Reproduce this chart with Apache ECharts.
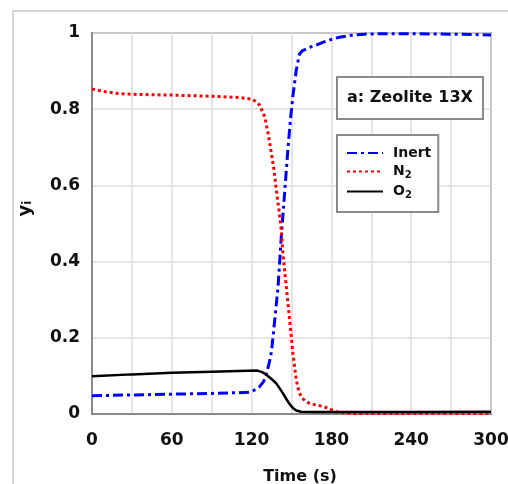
<!DOCTYPE html>
<html>
<head>
<meta charset="utf-8">
<script src="https://cdn.jsdelivr.net/npm/echarts@6/dist/echarts.min.js"></script>
<style>html,body{margin:0;padding:0;background:#fff;}#c{width:508px;height:484px;}</style>
</head>
<body>
<div id="c"></div>
<script>
// ---- data ----
var seriesNames = ['Inert', 'N2', 'O2'];
var xTicks = [0, 60, 120, 180, 240, 300];
var yTicks = [0, 0.2, 0.4, 0.6, 0.8, 1];

var inertT = [0, 30, 60, 90, 110, 118, 123, 126, 129, 131, 133, 135, 137.4, 139.9, 142.4, 145, 147.4, 149.2, 151, 153.6, 156, 158, 161, 165, 169, 174, 179, 186, 195, 205, 215, 240, 270, 300];
var inertY = [0.048, 0.05, 0.052, 0.054, 0.056, 0.057, 0.064, 0.072, 0.085, 0.105, 0.13, 0.165, 0.247, 0.334, 0.47, 0.588, 0.70, 0.772, 0.833, 0.903, 0.945, 0.953, 0.958, 0.964, 0.969, 0.976, 0.982, 0.989, 0.994, 0.997, 0.998, 0.998, 0.997, 0.995];

var n2T = [0, 10, 20, 30, 60, 90, 110, 121, 126, 129.9, 132.4, 134.9, 136.9, 138.6, 140.6, 142.4, 143.6, 146.1, 148.6, 151.1, 153.6, 155.5, 157.4, 160, 163.6, 168, 173.6, 177.4, 183.7, 191, 200, 240, 300];
var n2Y = [0.853, 0.846, 0.841, 0.839, 0.837, 0.834, 0.831, 0.826, 0.811, 0.78, 0.737, 0.684, 0.640, 0.588, 0.535, 0.48, 0.42, 0.334, 0.247, 0.159, 0.089, 0.06, 0.045, 0.035, 0.028, 0.024, 0.02, 0.015, 0.006, 0.002, 0.001, 0.001, 0.001];

var o2T = [0, 30, 60, 90, 110, 124, 128, 131, 135, 138.6, 141, 143.6, 146, 148.6, 151, 153.6, 157, 165, 180, 200, 240, 300];
var o2Y = [0.099, 0.104, 0.108, 0.111, 0.113, 0.114, 0.11, 0.103, 0.092, 0.08, 0.068, 0.054, 0.04, 0.026, 0.016, 0.009, 0.006, 0.005, 0.005, 0.005, 0.005, 0.006];

function pairs(t, y) { return t.map(function (v, i) { return [v, y[i]]; }); }

var FONT = '"DejaVu Sans", Verdana, sans-serif';
var chart = echarts.init(document.getElementById('c'), null, {renderer: 'canvas'});
var option = {
  animation: false,
  backgroundColor: '#fff',
  graphic: [{
    type: 'rect', z: -10, silent: true,
    shape: {x: 13, y: 11, width: 600, height: 600},
    style: {fill: 'none', stroke: '#c8c8c8', lineWidth: 1.5}
  }],
  title: {
    text: 'a: Zeolite 13X',
    left: 337, top: 77,
    padding: [13, 10, 13, 10],
    borderColor: '#8a8a8a', borderWidth: 2,
    backgroundColor: '#fff',
    textStyle: {fontFamily: FONT, fontSize: 16, fontWeight: 'bold', color: '#111'}
  },
  legend: {
    data: seriesNames,
    orient: 'vertical',
    left: 337, top: 135,
    padding: [11, 7, 12, 9],
    itemGap: 4,
    itemWidth: 36, itemHeight: 14,
    borderColor: '#8a8a8a', borderWidth: 2,
    backgroundColor: '#fff',
    itemStyle: {opacity: 0},
    formatter: function (name) {
      if (name === 'N2') return '{a|N}{s|2}';
      if (name === 'O2') return '{a|O}{s|2}';
      return '{a|' + name + '}';
    },
    textStyle: {
      fontFamily: FONT, fontSize: 14, fontWeight: 'bold', color: '#111', padding: [0, 0, 0, 5],
      rich: {
        a: {fontFamily: FONT, fontSize: 14, fontWeight: 'bold', color: '#111', lineHeight: 17},
        s: {fontFamily: FONT, fontSize: 10, fontWeight: 'bold', color: '#111', lineHeight: 17, verticalAlign: 'bottom', padding: [6, 0, 0, 0]}
      }
    }
  },
  grid: {left: 92, right: 17, top: 33, bottom: 70, show: true, borderColor: '#8a8a8a', borderWidth: 2,
         containLabel: false, outerBoundsMode: 'none'},
  xAxis: {
    type: 'value', min: 0, max: 300, interval: 30,
    name: 'Time (s)', nameLocation: 'middle', nameGap: 55,
    nameTextStyle: {fontFamily: FONT, fontSize: 16, fontWeight: 'bold', color: '#111', padding: [0, 0, 0, 17]},
    axisLine: {show: true, lineStyle: {color: '#8a8a8a', width: 2}},
    axisTick: {show: false},
    splitLine: {show: true, lineStyle: {color: '#dcdcdc', width: 1.5}},
    axisLabel: {
      margin: 18, fontFamily: FONT, fontSize: 17, fontWeight: 'bold', color: '#111',
      formatter: function (v) { return xTicks.indexOf(v) >= 0 ? String(v) : ''; }
    }
  },
  yAxis: {
    type: 'value', min: 0, max: 1, interval: 0.2,
    name: '{a|y}{s|i}', nameLocation: 'middle', nameGap: 58, nameRotate: 90,
    nameTextStyle: {
      fontFamily: FONT, fontSize: 18, color: '#111', padding: [0, 0, 0, 30],
      rich: {
        a: {fontFamily: FONT, fontSize: 18, fontWeight: 'bold', color: '#111'},
        s: {fontFamily: FONT, fontSize: 12, fontWeight: 'bold', color: '#111', verticalAlign: 'bottom', padding: [5, 0, 0, 0]}
      }
    },
    axisLine: {show: true, lineStyle: {color: '#8a8a8a', width: 2}},
    axisTick: {show: false},
    splitLine: {show: true, lineStyle: {color: '#dcdcdc', width: 1.5}},
    axisLabel: {
      margin: 12, fontFamily: FONT, fontSize: 17, fontWeight: 'bold', color: '#111',
      formatter: function (v) {
        for (var i = 0; i < yTicks.length; i++) if (Math.abs(v - yTicks[i]) < 1e-9) return String(yTicks[i]);
        return '';
      }
    }
  },
  series: [
    {name: 'Inert', type: 'line', data: pairs(inertT, inertY), symbol: 'none', smooth: false,
     lineStyle: {color: '#0000ff', width: 3, type: [10, 4, 3, 4]}, itemStyle: {color: '#0000ff'}},
    {name: 'N2', type: 'line', data: pairs(n2T, n2Y), symbol: 'none',
     lineStyle: {color: '#ff0000', width: 3, type: [3, 3]}, itemStyle: {color: '#ff0000'}},
    {name: 'O2', type: 'line', data: pairs(o2T, o2Y), symbol: 'none',
     lineStyle: {color: '#000000', width: 2.5, type: 'solid'}, itemStyle: {color: '#000000'}}
  ]
};
chart.setOption(option);
</script>
</body>
</html>
